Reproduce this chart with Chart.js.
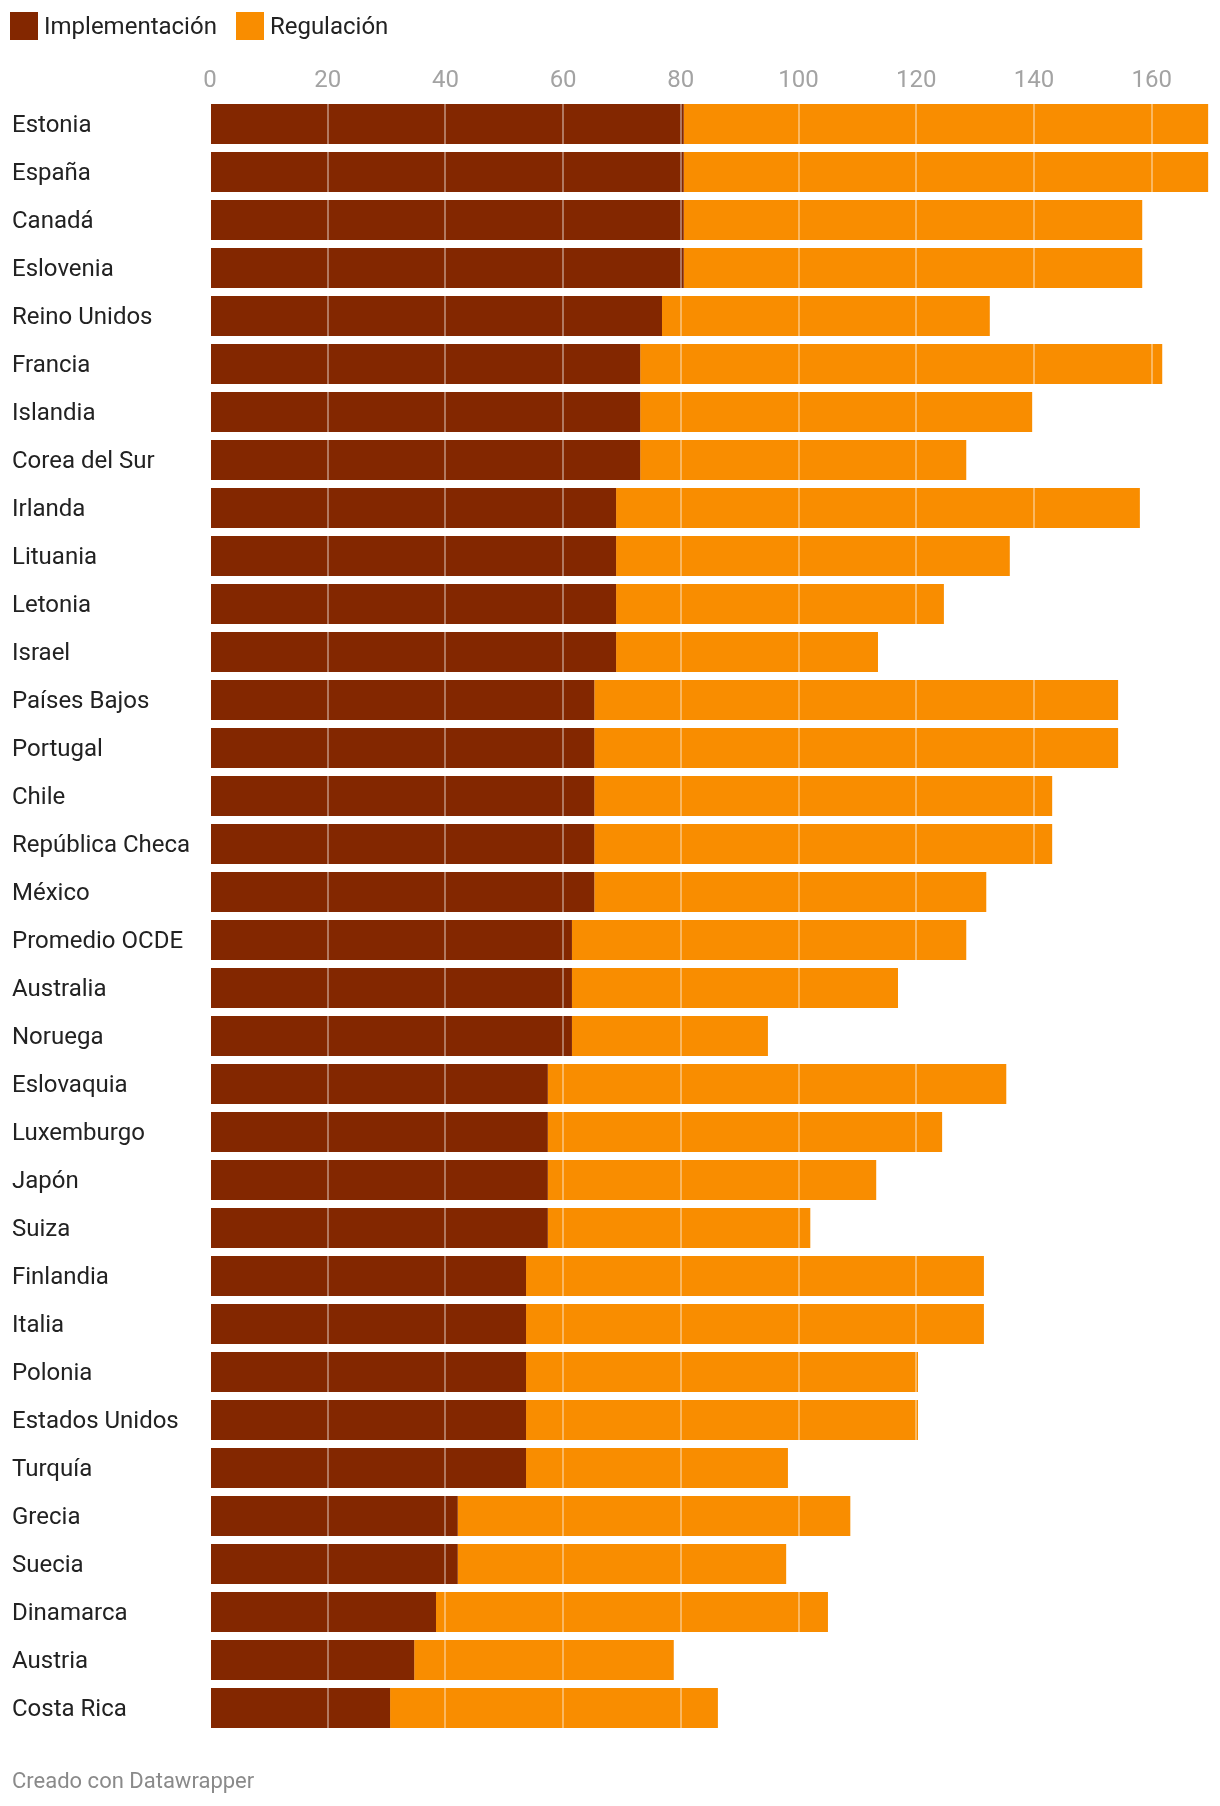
<!DOCTYPE html>
<html lang="es">
<head>
<meta charset="utf-8">
<title>Implementación y regulación</title>
<script src="https://cdn.jsdelivr.net/npm/chart.js@4.4.1/dist/chart.umd.min.js"></script>
<style>
    body {
        margin: 0;
        background: #fff;
        font-family: Roboto, "Noto Sans", sans-serif;
    }
    #lienzo {
        position: relative;
        width: 1220px;
        height: 1806px;
    }
    #leyenda {
        position: absolute;
        top: 12px;
        left: 10px;
        display: flex;
        align-items: center;
        height: 28px;
        font-size: 24px;
        color: #222;
    }
    .item {
        display: flex;
        align-items: center;
        margin-right: 19px;
    }
    .cuadro {
        width: 28px;
        height: 28px;
        margin-right: 6px;
    }
    #pie {
        position: absolute;
        left: 12px;
        top: 1770px;
        font-size: 22px;
        line-height: 22px;
        color: #8a8a8a;
    }
</style>
</head>
<body>
<div id="lienzo">
    <canvas id="myChart" width="1220" height="1806"></canvas>
    <div id="leyenda"></div>
    <div id="pie">Creado con Datawrapper</div>
</div>
<script>
const paises = [
    "Estonia", "España", "Canadá", "Eslovenia", "Reino Unidos", "Francia",
    "Islandia", "Corea del Sur", "Irlanda", "Lituania", "Letonia", "Israel",
    "Países Bajos", "Portugal", "Chile", "República Checa", "México",
    "Promedio OCDE", "Australia", "Noruega", "Eslovaquia", "Luxemburgo",
    "Japón", "Suiza", "Finlandia", "Italia", "Polonia", "Estados Unidos",
    "Turquía", "Grecia", "Suecia", "Dinamarca", "Austria", "Costa Rica"
];

const implementacion = [
    80.5, 80.5, 80.5, 80.5, 76.8, 73.1, 73.1, 73.1, 69.0, 69.0, 69.0, 69.0,
    65.3, 65.3, 65.3, 65.3, 65.3, 61.5, 61.5, 61.5, 57.4, 57.4, 57.4, 57.4,
    53.7, 53.7, 53.7, 53.7, 53.7, 42.1, 42.1, 38.4, 34.7, 30.6
];

const regulacion = [
    89.1, 89.1, 77.9, 77.9, 55.7, 88.7, 66.6, 55.4, 89.0, 66.9, 55.7, 44.5,
    89.0, 89.0, 77.8, 77.8, 66.6, 67.0, 55.4, 33.3, 77.9, 67.0, 55.8, 44.6,
    77.8, 77.8, 66.6, 66.6, 44.5, 66.7, 55.8, 66.6, 44.1, 55.7
];

const ticksEje = [0, 20, 40, 60, 80, 100, 120, 140, 160];

const series = [
    { nombre: "Implementación", color: "#832700", datos: implementacion },
    { nombre: "Regulación", color: "#f98d00", datos: regulacion }
];

// leyenda en html, como la de datawrapper
const leyenda = document.querySelector("#leyenda");
series.forEach((serie) => {
    leyenda.innerHTML += `<div class="item"><div class="cuadro" style="background:${serie.color}"></div>${serie.nombre}</div>`;
});

const fuente = "Roboto, 'Noto Sans', sans-serif";
let grapharea = document.getElementById("myChart").getContext("2d");

const data = {
    labels: paises,
    datasets: series.map((serie) => {
        return {
            label: serie.nombre,
            data: serie.datos,
            backgroundColor: serie.color,
            borderWidth: 0,
            categoryPercentage: 1,
            barPercentage: 40 / 48,
        };
    }),
};

const config = {
    type: "bar",
    data: data,
    options: {
        indexAxis: "y",
        responsive: false,
        animation: false,
        events: [],
        layout: {
            padding: { top: 50, left: 12, right: 9.5, bottom: 74 },
        },
        plugins: {
            legend: { display: false },
            tooltip: { enabled: false },
        },
        scales: {
            x: {
                position: "top",
                stacked: true,
                min: 0,
                max: 170,
                afterFit: (escala) => {
                    escala.height = 50;
                },
                afterBuildTicks: (escala) => {
                    escala.ticks = ticksEje.map((valor) => ({ value: valor }));
                },
                border: { display: false },
                // la rejilla va encima de las barras
                grid: {
                    z: 1,
                    color: "rgba(255,255,255,0.38)",
                    lineWidth: 2,
                    drawTicks: false,
                },
                ticks: {
                    padding: 5,
                    color: "#a3a3a3",
                    font: { family: fuente, size: 24 },
                    maxRotation: 0,
                },
            },
            y: {
                stacked: true,
                afterFit: (escala) => {
                    escala.width = 198;
                },
                border: { display: false },
                grid: { display: false },
                ticks: {
                    crossAlign: "far",
                    labelOffset: 2,
                    color: "#222",
                    font: { family: fuente, size: 24 },
                    autoSkip: false,
                },
            },
        },
    },
};

let myChart = new Chart(grapharea, config);
</script>
</body>
</html>
